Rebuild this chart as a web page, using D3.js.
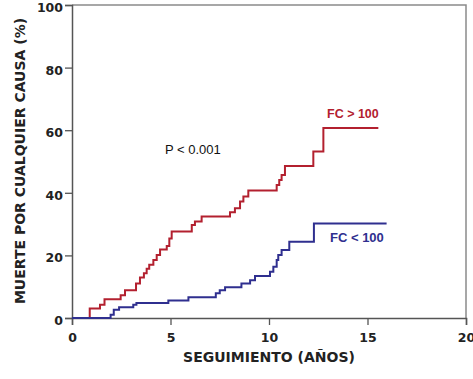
<!DOCTYPE html>
<html>
<head>
<meta charset="utf-8">
<script src="https://cdn.jsdelivr.net/npm/d3@7"></script>
<style>
  body { margin: 0; background: #fff; }
  svg { display: block; }
  .tick text { font-family: "DejaVu Sans", sans-serif; font-weight: bold; font-size: 12.5px; fill: #222; }
  .axis-title { font-family: "DejaVu Sans", sans-serif; font-weight: bold; font-size: 14px; fill: #222; }
</style>
</head>
<body>
<div id="chart"></div>
<script>
// Kaplan-Meier style cumulative mortality (%), step after each time (years)
const redTimes = [0, 0.9, 1.42, 1.65, 2.47, 2.69, 3.25, 3.45, 3.65, 3.79, 3.92, 4.13, 4.30, 4.47, 4.81, 4.94, 5.06, 6.08, 6.24, 6.58, 8.02, 8.27, 8.53, 8.70, 8.95, 10.39, 10.52, 10.64, 10.81, 12.25, 12.76, 15.55];
const redValues = [0, 3.0, 4.2, 6.0, 7.3, 8.9, 11.0, 12.9, 14.3, 15.7, 17.0, 18.5, 20.1, 21.9, 23.0, 25.4, 27.6, 29.7, 30.8, 32.4, 33.8, 35.1, 37.2, 38.8, 40.7, 42.5, 44.1, 45.7, 48.6, 53.2, 60.7, 60.7];

const blueTimes = [0, 1.96, 2.12, 2.39, 3.11, 3.27, 4.89, 5.91, 7.30, 7.50, 7.77, 8.60, 9.04, 9.29, 10.05, 10.22, 10.39, 10.47, 10.64, 11.03, 12.28, 15.97];
const blueValues = [0, 1.0, 2.6, 3.4, 4.2, 4.8, 5.6, 6.6, 7.9, 8.9, 9.8, 11.0, 12.1, 13.4, 14.8, 16.4, 18.5, 20.1, 21.7, 24.4, 30.2, 30.2];

const xTicks = [0, 5, 10, 15, 20];
const yTicks = [0, 20, 40, 60, 80, 100];

const width = 473;
const height = 379;
const margin = { left: 72, right: 7, top: 5, bottom: 61 };

const svg = d3.select('#chart').append('svg')
  .attr('width', width)
  .attr('height', height);

const x = d3.scaleLinear()
  .domain([0, 20])
  .range([margin.left, width - margin.right]);

const y = d3.scaleLinear()
  .domain([0, 100])
  .range([height - margin.bottom, margin.top]);

// Frame (top and right borders)
svg.append('path')
  .attr('d', `M${x(0)},${y(100)} H${x(20)} V${y(0)}`)
  .attr('fill', 'none')
  .attr('stroke', '#8a8a8a')
  .attr('stroke-width', 1.5);

// Axes
const xAxis = svg.append('g')
  .attr('transform', `translate(0,${y(0)})`)
  .call(d3.axisBottom(x).tickValues(xTicks).tickSize(7).tickPadding(8));

const yAxis = svg.append('g')
  .attr('transform', `translate(${x(0)},0)`)
  .call(d3.axisLeft(y).tickValues(yTicks).tickSize(7).tickPadding(2));

yAxis.selectAll('.tick text').attr('dy', '0.52em');

[xAxis, yAxis].forEach(a => {
  a.select('.domain').attr('stroke', '#555').attr('stroke-width', 1.5);
  a.selectAll('.tick line').attr('stroke', '#555').attr('stroke-width', 1.3);
});

// Step curves
const line = d3.line()
  .x(d => x(d[0]))
  .y(d => y(d[1]))
  .curve(d3.curveStepAfter);

const series = [
  { times: redTimes, values: redValues, color: '#b3202f' },
  { times: blueTimes, values: blueValues, color: '#2f2f8f' }
];

series.forEach(s => {
  svg.append('path')
    .datum(d3.zip(s.times, s.values))
    .attr('d', line)
    .attr('fill', 'none')
    .attr('stroke', s.color)
    .attr('stroke-width', 2);
});

// Labels
svg.append('text')
  .attr('x', 327)
  .attr('y', 118)
  .attr('font-family', 'Liberation Sans, Arial, sans-serif')
  .attr('font-weight', 'bold')
  .attr('font-size', 12.5)
  .attr('fill', '#b3202f')
  .text('FC > 100');

svg.append('text')
  .attr('x', 330)
  .attr('y', 242)
  .attr('font-family', 'Liberation Sans, Arial, sans-serif')
  .attr('font-weight', 'bold')
  .attr('font-size', 13)
  .attr('fill', '#2f2f8f')
  .text('FC < 100');

svg.append('text')
  .attr('x', 165)
  .attr('y', 154)
  .attr('font-family', 'Liberation Sans, Arial, sans-serif')
  .attr('font-size', 13)
  .attr('fill', '#111')
  .text('P < 0.001');

// Axis titles
svg.append('text')
  .attr('class', 'axis-title')
  .attr('x', (x(0) + x(20)) / 2)
  .attr('y', 362)
  .attr('text-anchor', 'middle')
  .text('SEGUIMIENTO (AÑOS)');

svg.append('text')
  .attr('class', 'axis-title')
  .attr('transform', `translate(25,${161}) rotate(-90)`)
  .attr('text-anchor', 'middle')
  .text('MUERTE POR CUALQUIER CAUSA (%)');
</script>
</body>
</html>
